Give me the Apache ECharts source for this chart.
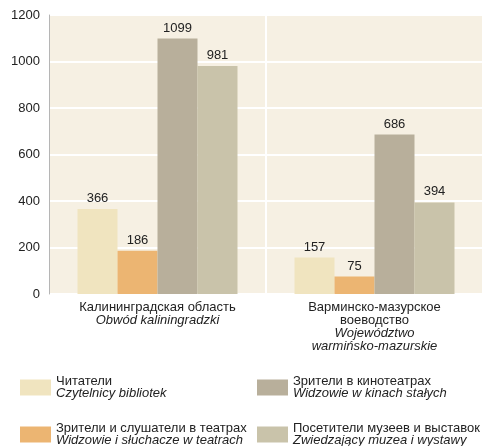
<!DOCTYPE html>
<html>
<head>
<meta charset="utf-8">
<script src="https://cdn.jsdelivr.net/npm/echarts@6/dist/echarts.min.js"></script>
<style>
  html, body { margin: 0; padding: 0; background: #fff; }
  #chart { width: 485px; height: 446px; }
</style>
</head>
<body>
<div id="chart"></div>
<script>
// kategorie (ru / pl)
const categoriesRu = ['Калининградская область', 'Варминско-мазурское\nвоеводство'];
const categoriesPl = ['Obwód kaliningradzki', 'Województwo\nwarmińsko-mazurskie'];

// serie
const seriesRu = ['Читатели', 'Зрители и слушатели в театрах', 'Зрители в кинотеатрах', 'Посетители музеев и выставок'];
const seriesPl = ['Czytelnicy bibliotek', 'Widzowie i słuchacze w teatrach', 'Widzowie w kinach stałych', 'Zwiedzający muzea i wystawy'];
const readers = [366, 157];
const theatre = [186, 75];
const cinema = [1099, 686];
const museums = [981, 394];

const colors = ['#f0e4bf', '#ecb572', '#b8af9b', '#c9c3aa'];
const fontFamily = '"Liberation Sans", Arial, sans-serif';

const chart = echarts.init(document.getElementById('chart'));

function catLabel(value, idx) {
    const ru = categoriesRu[idx].split('\n').map(s => '{a|' + s + '}').join('\n');
    const pl = categoriesPl[idx].split('\n').map(s => '{b|' + s + '}').join('\n');
    return ru + '\n' + pl;
}

function legendLabel(name) {
    const i = seriesRu.indexOf(name);
    return '{a|' + name + '}\n{b|' + seriesPl[i] + '}';
}

function richText(lh) {
    return {
        a: { fontSize: 13, lineHeight: lh, color: '#222', fontFamily: fontFamily },
        b: { fontSize: 13, lineHeight: lh, color: '#222', fontStyle: 'italic', fontFamily: fontFamily }
    };
}

const data = [readers, theatre, cinema, museums];

// pozycje legendy (lewo, góra)
const legendPos = [[20, 375], [20, 422], [257, 375], [257, 422]];

const option = {
    animation: false,
    textStyle: { fontFamily: fontFamily },
    grid: {
        left: 49, right: 2, top: 15, bottom: 152,
        show: true, backgroundColor: '#f6f0e3', borderWidth: 0
    },
    legend: seriesRu.map((name, i) => ({
        data: [name],
        left: legendPos[i][0], top: legendPos[i][1],
        padding: 0,
        itemWidth: 31, itemHeight: 16,
        icon: 'rect',
        selectedMode: false,
        formatter: legendLabel,
        textStyle: { rich: richText(12) }
    })),
    xAxis: {
        type: 'category',
        data: categoriesRu,
        axisLine: { show: false },
        axisTick: { show: false },
        splitLine: { show: true, lineStyle: { color: '#ffffff', width: 2 } },
        axisLabel: {
            interval: 0,
            margin: 7,
            formatter: catLabel,
            rich: richText(13)
        }
    },
    yAxis: {
        type: 'value',
        min: 0, max: 1200, interval: 200,
        axisLine: { show: true, lineStyle: { color: '#b5b5b5', width: 1 } },
        axisTick: { show: false },
        splitLine: { show: true, lineStyle: { color: '#ffffff', width: 2 } },
        axisLabel: { fontSize: 13, color: '#222', margin: 9, formatter: v => String(v) }
    },
    series: seriesRu.map((name, i) => ({
        name: name,
        type: 'bar',
        data: data[i],
        barWidth: 40,
        barGap: '0%',
        itemStyle: { color: colors[i] },
        label: {
            show: true, position: 'top', distance: 4,
            fontSize: 13, color: '#222'
        }
    }))
};

chart.setOption(option);
</script>
</body>
</html>
